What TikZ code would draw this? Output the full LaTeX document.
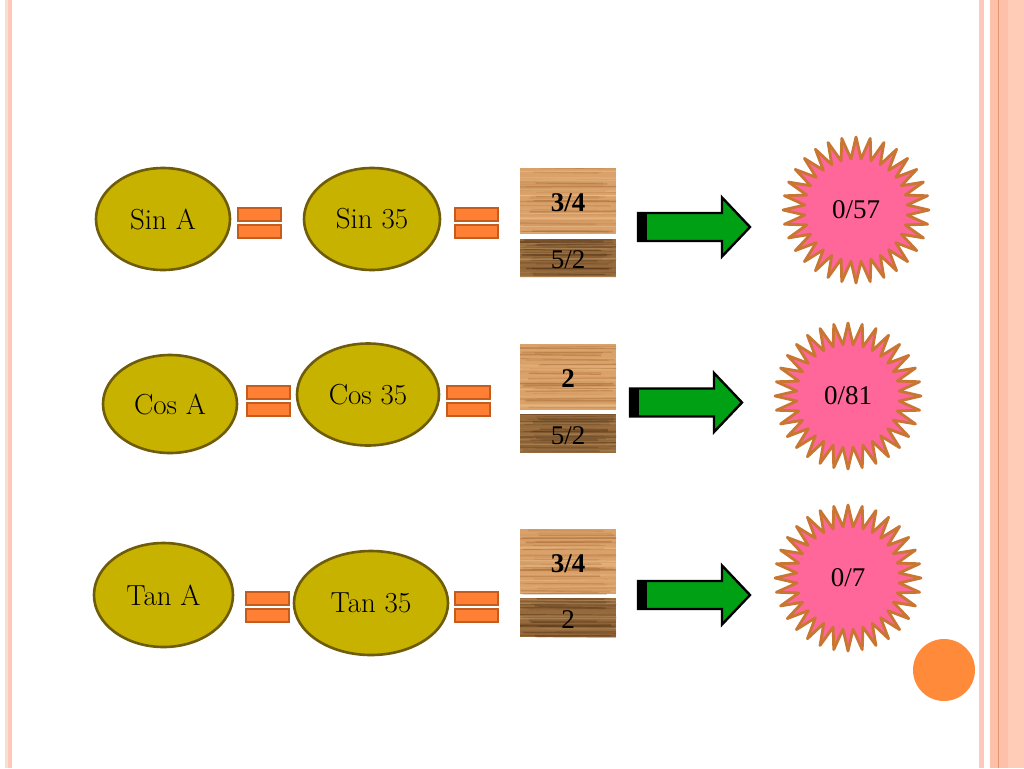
\documentclass[tikz,border=0pt]{standalone}
\usepackage{fontspec}
\newfontfamily\timesf{Liberation Serif}
\usetikzlibrary{shapes.geometric}
\definecolor{olivefill}{RGB}{200,178,0}
\definecolor{olivedraw}{RGB}{110,92,10}
\definecolor{eqfill}{RGB}{255,128,52}
\definecolor{eqdraw}{RGB}{196,92,30}
\definecolor{arrgreen}{RGB}{0,160,20}
\definecolor{starfill}{RGB}{255,102,153}
\definecolor{stardraw}{RGB}{200,118,50}
\definecolor{dotorange}{RGB}{255,138,58}
\definecolor{woodA}{RGB}{218,162,106}
\definecolor{woodAg}{RGB}{165,105,52}
\definecolor{woodAl}{RGB}{240,200,150}
\definecolor{woodB}{RGB}{150,106,60}
\definecolor{woodBg}{RGB}{78,48,20}
\definecolor{woodBl}{RGB}{190,150,100}
\definecolor{bordA}{RGB}{255,200,184}
\definecolor{bordB}{RGB}{245,225,205}
\definecolor{bordC}{RGB}{255,192,170}
\definecolor{bordD}{RGB}{255,204,184}
\definecolor{bordL}{RGB}{228,150,115}
\tikzset{
  oval/.style={ellipse, draw=olivedraw, fill=olivefill, line width=2.6pt, inner sep=0pt, font=\fontsize{29}{33}\selectfont},
  eqbar/.style={draw=eqdraw, fill=eqfill, line width=1.2pt},
  arrowst/.style={draw=black, fill=arrgreen, line width=2.4pt, line join=miter},
  burst/.style={star, star points=32, star point ratio=1.42, minimum size=146pt, inner sep=0pt, draw=stardraw, fill=starfill, line width=2.8pt, line join=round},
  startext/.style={font=\timesf\fontsize{27}{30}\selectfont},
  woodtext/.style={font=\timesf\fontsize{27}{30}\selectfont},
  eqsign/.pic={
    \path[eqbar] (0,0) rectangle (43,13);
    \path[eqbar] (0,17) rectangle (43,30);
  },
  greenarrow/.pic={
    \path[arrowst] (0,-14) -- (84,-14) -- (84,-29.5) -- (112,0) -- (84,29.5) -- (84,14) -- (0,14) -- cycle;
    \fill[black] (-1.2,-14) rectangle (9,14);
  }
}
\newcommand\mywood[9]{%
  \node[draw=none, fill=#6, minimum width=#4pt, minimum height=#5pt, inner sep=0pt] (#1) at (#2,#3) {};
  \begin{scope}
    \clip (#2-#4/2,#3-#5/2) rectangle (#2+#4/2,#3+#5/2);
    \foreach \k in {1,...,34} {
      \pgfmathsetmacro\yy{#3-#5/2+rnd*#5}
      \pgfmathsetmacro\lw{0.4+rnd*1.6}
      \pgfmathsetmacro\op{0.12+rnd*0.4}
      \pgfmathsetmacro\xa{#2-#4/2-10+rnd*30}
      \pgfmathsetmacro\xb{#2+#4/2+10-rnd*30}
      \draw[#7, opacity=\op, line width=\lw pt] (\xa,\yy) -- (\xb,\yy+rnd*2-1);
    }
    \foreach \k in {1,...,14} {
      \pgfmathsetmacro\yy{#3-#5/2+rnd*#5}
      \pgfmathsetmacro\lw{0.4+rnd*1.4}
      \pgfmathsetmacro\op{0.15+rnd*0.35}
      \draw[#8, opacity=\op, line width=\lw pt] (#2-#4/2,\yy) -- (#2+#4/2,\yy+rnd*2-1);
    }
  \end{scope}
  \node[woodtext] at ([yshift=-2pt]#1.center) {#9};
}
\begin{document}
\begin{tikzpicture}[x=1pt,y=-1pt]
\pgfmathsetseed{7}
\useasboundingbox (0,0) rectangle (1024,768);
\fill[white] (0,0) rectangle (1024,768);
% borders
\fill[bordB] (5,0) rectangle (7.5,768);
\fill[bordA] (7.5,0) rectangle (12,768);
\fill[bordA] (979,0) rectangle (984,768);
\fill[bordC] (990,0) rectangle (1008,768);
\fill[bordD] (1008,0) rectangle (1024,768);
\draw[bordL, line width=0.8pt] (998.5,0) -- (998.5,768);

% row 1
\node[oval, minimum width=134pt, minimum height=102pt] (sinA) at (163,219) {Sin A};
\node[oval, minimum width=136pt, minimum height=102pt] (sin35) at (372,219) {Sin 35};
\pic (eq1a) at (238,208) {eqsign};
\pic (eq1b) at (455,208) {eqsign};
\mywood{w1t}{568}{201}{96}{66}{woodA}{woodAg}{woodAl}{\bfseries 3/4}
\mywood{w1b}{568}{258}{96}{38}{woodB}{woodBg}{woodBl}{5/2}
\pic (ar1) at (638,227) {greenarrow};
\node[burst] (st1) at (856,210) {};
\node[startext] (t1) at (st1) {0/57};

% row 2
\node[oval, minimum width=134pt, minimum height=98pt] (cosA) at (170,404) {Cos A};
\node[oval, minimum width=142pt, minimum height=102pt] (cos35) at (368,394.5) {Cos 35};
\pic (eq2a) at (247,386) {eqsign};
\pic (eq2b) at (447,386) {eqsign};
\mywood{w2t}{568}{377}{96}{66}{woodA}{woodAg}{woodAl}{\bfseries 2}
\mywood{w2b}{568}{433.5}{96}{39}{woodB}{woodBg}{woodBl}{5/2}
\pic (ar2) at (630,402.5) {greenarrow};
\node[burst] (st2) at (848,396) {};
\node[startext] (t2) at (st2) {0/81};

% row 3
\node[oval, minimum width=139pt, minimum height=104pt] (tanA) at (163.5,595) {Tan A};
\node[oval, minimum width=154pt, minimum height=104pt] (tan35) at (371,603) {Tan 35};
\pic (eq3a) at (246,592) {eqsign};
\pic (eq3b) at (455,592) {eqsign};
\mywood{w3t}{568}{561.5}{96}{65}{woodA}{woodAg}{woodAl}{\bfseries 3/4}
\mywood{w3b}{568}{617.5}{96}{39}{woodB}{woodBg}{woodBl}{2}
\pic (ar3) at (638,595) {greenarrow};
\node[burst] (st3) at (848,578) {};
\node[startext] (t3) at (st3) {0/7};

% orange dot
\node[circle, fill=dotorange, minimum size=62pt, inner sep=0pt] (dot) at (944,670) {};
\end{tikzpicture}
\end{document}
